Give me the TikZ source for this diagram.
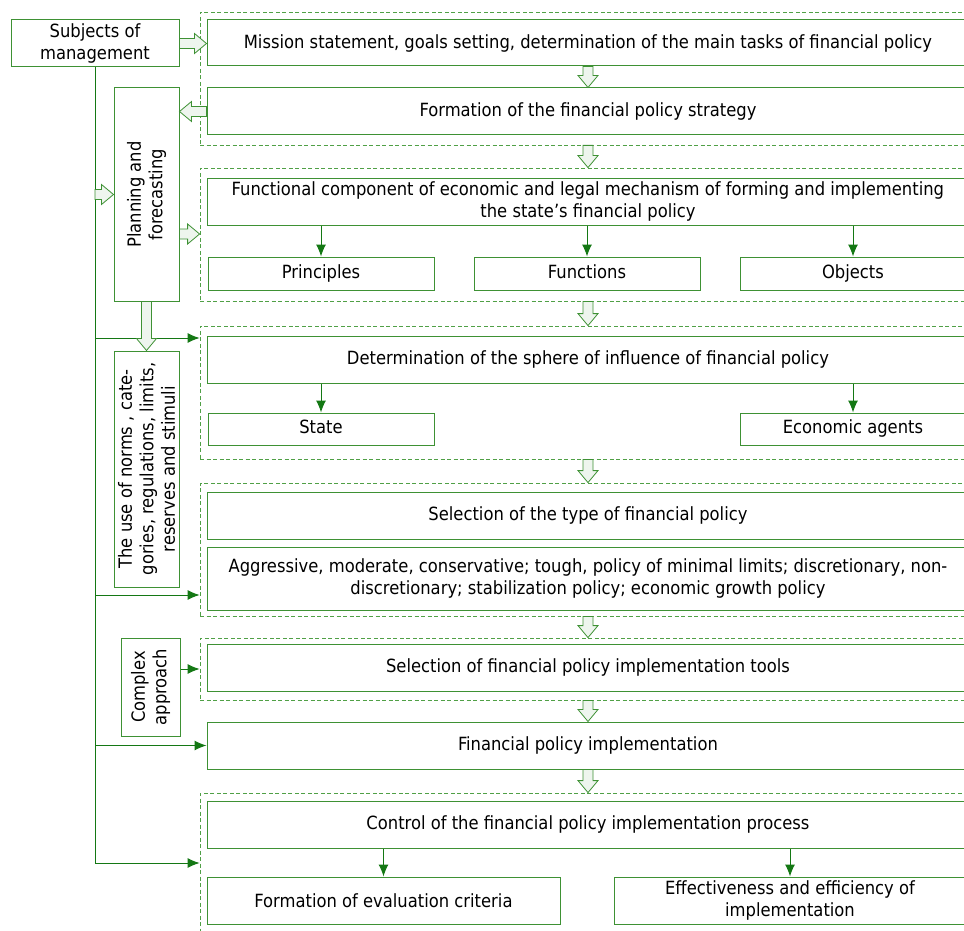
\documentclass[tikz,border=0pt]{standalone}
\usepackage{fontspec}
\setmainfont{DejaVu Sans Condensed}
\usetikzlibrary{arrows.meta,calc}
\definecolor{boxgreen}{RGB}{62,145,52}
\definecolor{darkgreen}{RGB}{20,120,20}
\definecolor{dashgreen}{RGB}{80,160,70}
\definecolor{paleg}{RGB}{238,245,238}

% wide hollow arrow from #1 to #2
\newcommand{\fatarrow}[2]{%
  \path (#1) coordinate (fa-s) (#2) coordinate (fa-e);
  \path ($(fa-e)!12pt!(fa-s)$) coordinate (fa-h);
  \draw[hollow] ($(fa-s)!5pt!90:(fa-e)$) -- ($(fa-h)!5pt!90:(fa-e)$)
    -- ($(fa-h)!10pt!90:(fa-e)$) -- (fa-e) -- ($(fa-h)!10pt!-90:(fa-e)$)
    -- ($(fa-h)!5pt!-90:(fa-e)$) -- ($(fa-s)!5pt!-90:(fa-e)$) -- cycle;}

\begin{document}
\begin{tikzpicture}[x=1pt,y=-1pt,
    box/.style={draw=boxgreen,line width=1pt,align=center,inner sep=0pt,
      font=\fontsize{18.2}{21.5}\selectfont},
    smallbox/.style={box,minimum width=226pt,text height=13.5pt,text depth=4pt},
    txt/.style={align=center,inner sep=0pt,font=\fontsize{18.2}{21.5}\selectfont},
    group/.style={draw=dashgreen,line width=0.8pt,dash pattern=on 4pt off 2.5pt,
      inner sep=0pt,minimum width=776pt},
    flow/.style={draw=darkgreen,line width=1pt,-{Latex[length=12pt,width=10pt]}},
    hollow/.style={draw=boxgreen,fill=paleg,line width=0.8pt}]
    \path[use as bounding box,clip] (0,0) rectangle (964,931);

    %dashed groups
    \node[group,minimum height=133pt] (g1) at (588,78.5) {};
    \node[group,minimum height=133pt] (g2) at (588,234.5) {};
    \node[group,minimum height=133pt] (g3) at (588,392.5) {};
    \node[group,minimum height=133pt] (g4) at (588,549.5) {};
    \node[group,minimum height=62pt] (g5) at (588,669) {};
    \node[group,minimum height=152pt] (g6) at (588,869) {};

    %left column
    \node[box,minimum width=168pt,minimum height=47pt] (subjects) at (95,43.5) {Subjects of\\management};
    \node[box,minimum width=65pt,minimum height=213pt] (planning) at (146.5,194.5) {};
    \node[txt,rotate=90] (planning-txt) at (planning) {Planning and\\forecasting};
    \node[box,minimum width=65pt,minimum height=236pt] (norms) at (146.5,469) {};
    \node[txt,rotate=90] (norms-txt) at (norms) {The use of norms , cate-\\gories, regulations, limits,\\reserves and stimuli};
    \node[box,minimum width=59pt,minimum height=98pt] (complex) at (150.5,687) {};
    \node[txt,rotate=90] (complex-txt) at (complex) {Complex\\approach};

    %main column
    \node[box,minimum width=762pt,minimum height=46pt] (mission) at (588,43) {Mission statement, goals setting, determination of the main tasks of financial policy};
    \node[box,minimum width=762pt,minimum height=47pt] (formation) at (588,111.5) {Formation of the financial policy strategy};
    \node[box,minimum width=762pt,minimum height=47pt] (functional) at (588,201.5) {Functional component of economic and legal mechanism of forming and implementing\\the state’s financial policy};
    \node[smallbox,minimum height=33pt] (principles) at (321,273.5) {Principles};
    \node[smallbox,minimum height=33pt] (functions) at (587,273.5) {Functions};
    \node[smallbox,minimum height=33pt] (objects) at (853,273.5) {Objects};
    \node[box,minimum width=762pt,minimum height=47pt] (sphere) at (588,359.5) {Determination of the sphere of influence of financial policy};
    \node[smallbox,minimum height=32pt] (state) at (321,429) {State};
    \node[smallbox,minimum height=32pt] (agents) at (853,429) {Economic agents};
    \node[box,minimum width=762pt,minimum height=47pt] (seltype) at (588,515.5) {Selection of the type of financial policy};
    \node[box,minimum width=762pt,minimum height=63pt] (types) at (588,578.5) {Aggressive, moderate, conservative; tough, policy of minimal limits; discretionary, non-\\discretionary; stabilization policy; economic growth policy};
    \node[box,minimum width=762pt,minimum height=47pt] (tools) at (588,667.5) {Selection of financial policy implementation tools};
    \node[box,minimum width=762pt,minimum height=47pt] (implement) at (588,745.5) {Financial policy implementation};
    \node[box,minimum width=762pt,minimum height=47pt] (control) at (588,824.5) {Control of the financial policy implementation process};
    \node[box,minimum width=353pt,minimum height=47pt] (criteria) at (383.5,900.5) {Formation of evaluation criteria};
    \node[box,minimum width=352pt,minimum height=47pt] (effect) at (790,900.5) {Effectiveness and efficiency of\\implementation};

    %main line with branches
    \coordinate (b1) at (95,338);
    \coordinate (b2) at (95,595);
    \coordinate (b4) at (95,863);
    \draw[darkgreen,line width=1pt] (subjects.south) -- (b4);
    \draw[flow] (b1) -- (b1 -| g3.west);
    \draw[flow] (b2) -- (b2 -| g4.west);
    \draw[flow] (implement.west -| subjects.south) -- (implement.west);
    \draw[flow] (b4) -- (b4 -| g6.west);
    \draw[flow] (g5.west -| complex.east) -- (g5.west);

    %inner arrows
    \draw[flow] (principles.north |- functional.south) -- (principles.north);
    \draw[flow] (functions.north |- functional.south) -- (functions.north);
    \draw[flow] (objects.north |- functional.south) -- (objects.north);
    \draw[flow] (state.north |- sphere.south) -- (state.north);
    \draw[flow] (agents.north |- sphere.south) -- (agents.north);
    \draw[flow] (criteria.north |- control.south) -- (criteria.north);
    \draw[flow] (effect.north |- control.south) -- (effect.north);

    %hollow arrows
    \coordinate (pf-out) at ([yshift=-39.5pt]planning.east);
    \fatarrow{subjects.east}{subjects.east -| mission.west}
    \fatarrow{mission.south}{formation.north}
    \fatarrow{formation.west}{formation.west -| planning.east}
    \fatarrow{planning.west -| subjects.south}{planning.west}
    \fatarrow{pf-out}{pf-out -| g2.west}
    \fatarrow{planning.south}{norms.north}
    \fatarrow{g1.south}{g2.north}
    \fatarrow{g2.south}{g3.north}
    \fatarrow{g3.south}{g4.north}
    \fatarrow{g4.south}{g5.north}
    \fatarrow{g5.south}{implement.north}
    \fatarrow{implement.south}{g6.north}
\end{tikzpicture}
\end{document}
